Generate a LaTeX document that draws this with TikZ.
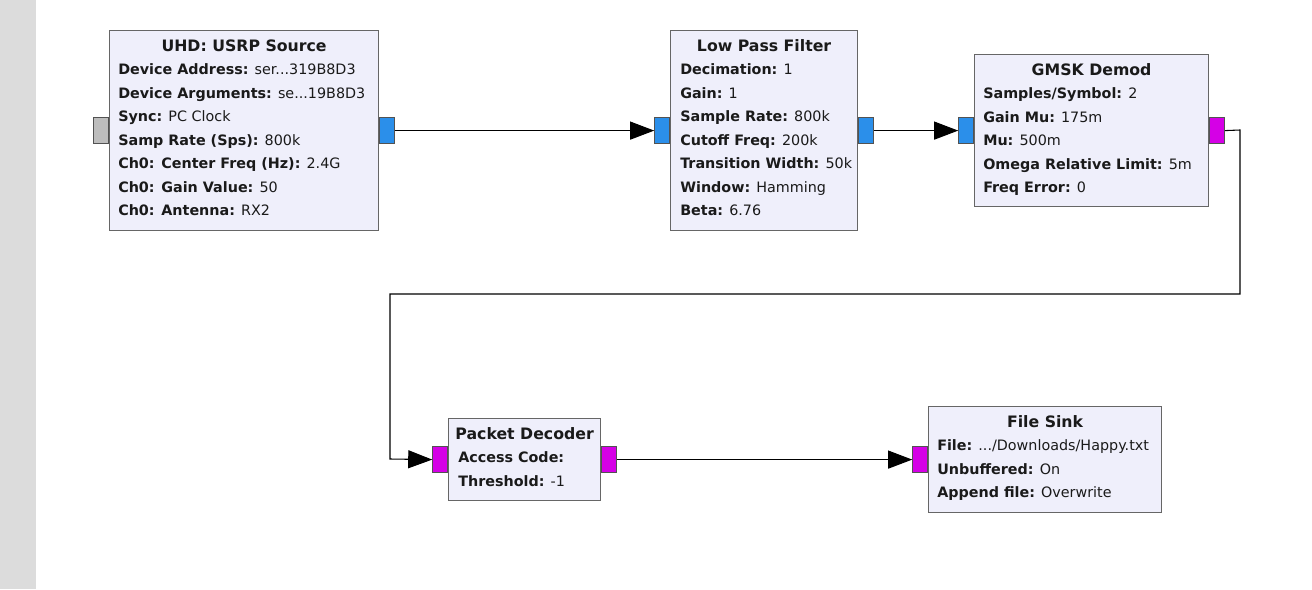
\documentclass[tikz,border=0pt]{standalone}
\usepackage{fontspec}
\setmainfont{DejaVu Sans}
\usetikzlibrary{arrows.meta}

\definecolor{sidebar}{HTML}{DCDCDC}
\definecolor{blockfill}{HTML}{EFEFFB}
\definecolor{blockline}{HTML}{666666}
\definecolor{cplxport}{HTML}{2B8FEA}
\definecolor{byteport}{HTML}{D500E6}
\definecolor{nullport}{HTML}{BDBDBD}
\definecolor{ink}{HTML}{1A1A1A}

\tikzset{
  block/.style 2 args={draw=blockline, fill=blockfill, line width=0.9pt, inner sep=0pt,
    anchor=north west, minimum width=#1*0.75pt, minimum height=#2*0.75pt},
  port/.style={draw=blockline!80!black, line width=0.6pt, fill=#1, inner sep=0pt,
    minimum width=15*0.75pt, minimum height=26*0.75pt},
  txt/.style={inner sep=0pt, text=ink, font=\fontsize{10.75}{13}\selectfont},
  ttl/.style={inner sep=0pt, text=ink, font=\fontsize{11.8}{14}\selectfont\bfseries},
  link/.style={draw=black, line width=0.8pt, -{Triangle[length=18pt,width=13.5pt]}},
}

% parameter line: block, line number, left inset, key, value
\newcommand\bparam[5]{%
  \node[txt, anchor=base west] (#1-l#2) at ([shift={(#3,{44.5+23.5*(#2-1)})}]#1.north west) {\textbf{#4} #5};}
% block title, centred on the block
\newcommand\btitle[2]{%
  \node[ttl, anchor=base] (#1-title) at ([yshift=-21*0.75pt]#1.north) {#2};}

\begin{document}
\begin{tikzpicture}[x=0.75pt,y=-0.75pt]
\useasboundingbox (0,0) rectangle (1312,589);
\fill[white] (0,0) rectangle (1312,589);
\fill[sidebar] (0,0) rectangle (36,589);

% blocks
\node[block={269}{200}] (usrp) at (109,30) {};
\node[block={187}{200}] (lpf) at (670,30) {};
\node[block={234}{152}] (gmsk) at (974,54) {};
\node[block={152}{82}] (pkt) at (448,418) {};
\node[block={233}{106}] (sink) at (928,406) {};

% ports
\node[port=nullport, anchor=east] (usrp-in) at (usrp.west) {};
\node[port=cplxport, anchor=west] (usrp-out) at (usrp.east) {};
\node[port=cplxport, anchor=east] (lpf-in) at (lpf.west) {};
\node[port=cplxport, anchor=west] (lpf-out) at (lpf.east) {};
\node[port=cplxport, anchor=east] (gmsk-in) at (gmsk.west) {};
\node[port=byteport, anchor=west] (gmsk-out) at (gmsk.east) {};
\node[port=byteport, anchor=east] (pkt-in) at (pkt.west) {};
\node[port=byteport, anchor=west] (pkt-out) at (pkt.east) {};
\node[port=byteport, anchor=east] (sink-in) at (sink.west) {};

% UHD source
\btitle{usrp}{UHD: USRP Source}
\bparam{usrp}{1}{9}{Device Address:}{ser...319B8D3}
\bparam{usrp}{2}{9}{Device Arguments:}{se...19B8D3}
\bparam{usrp}{3}{9}{Sync:}{PC Clock}
\bparam{usrp}{4}{9}{Samp Rate (Sps):}{800k}
\bparam{usrp}{5}{9}{Ch0: Center Freq (Hz):}{2.4G}
\bparam{usrp}{6}{9}{Ch0: Gain Value:}{50}
\bparam{usrp}{7}{9}{Ch0: Antenna:}{RX2}

% low pass filter
\btitle{lpf}{Low Pass Filter}
\bparam{lpf}{1}{10}{Decimation:}{1}
\bparam{lpf}{2}{10}{Gain:}{1}
\bparam{lpf}{3}{10}{Sample Rate:}{800k}
\bparam{lpf}{4}{10}{Cutoff Freq:}{200k}
\bparam{lpf}{5}{10}{Transition Width:}{50k}
\bparam{lpf}{6}{10}{Window:}{Hamming}
\bparam{lpf}{7}{10}{Beta:}{6.76}

% GMSK demodulator
\btitle{gmsk}{GMSK Demod}
\bparam{gmsk}{1}{9}{Samples/Symbol:}{2}
\bparam{gmsk}{2}{9}{Gain Mu:}{175m}
\bparam{gmsk}{3}{9}{Mu:}{500m}
\bparam{gmsk}{4}{9}{Omega Relative Limit:}{5m}
\bparam{gmsk}{5}{9}{Freq Error:}{0}

% packet decoder
\btitle{pkt}{Packet Decoder}
\bparam{pkt}{1}{10}{Access Code:}{}
\bparam{pkt}{2}{10}{Threshold:}{-1}

% file sink
\btitle{sink}{File Sink}
\bparam{sink}{1}{9}{File:}{.../Downloads/Happy.txt}
\bparam{sink}{2}{9}{Unbuffered:}{On}
\bparam{sink}{3}{9}{Append file:}{Overwrite}

% connections
\coordinate (bendA) at (1240,130);
\coordinate (bendB) at (1240,294);
\coordinate (bendC) at (390,294);
\coordinate (bendD) at (390,459);
\draw[link] (usrp-out.east) -- (lpf-in.west);
\draw[link] (lpf-out.east) -- (gmsk-in.west);
\draw[link] (gmsk-out.east) -- (bendA) -- (bendB) -- (bendC) -- (bendD) -- (pkt-in.west);
\draw[link] (pkt-out.east) -- (sink-in.west);
\end{tikzpicture}
\end{document}
